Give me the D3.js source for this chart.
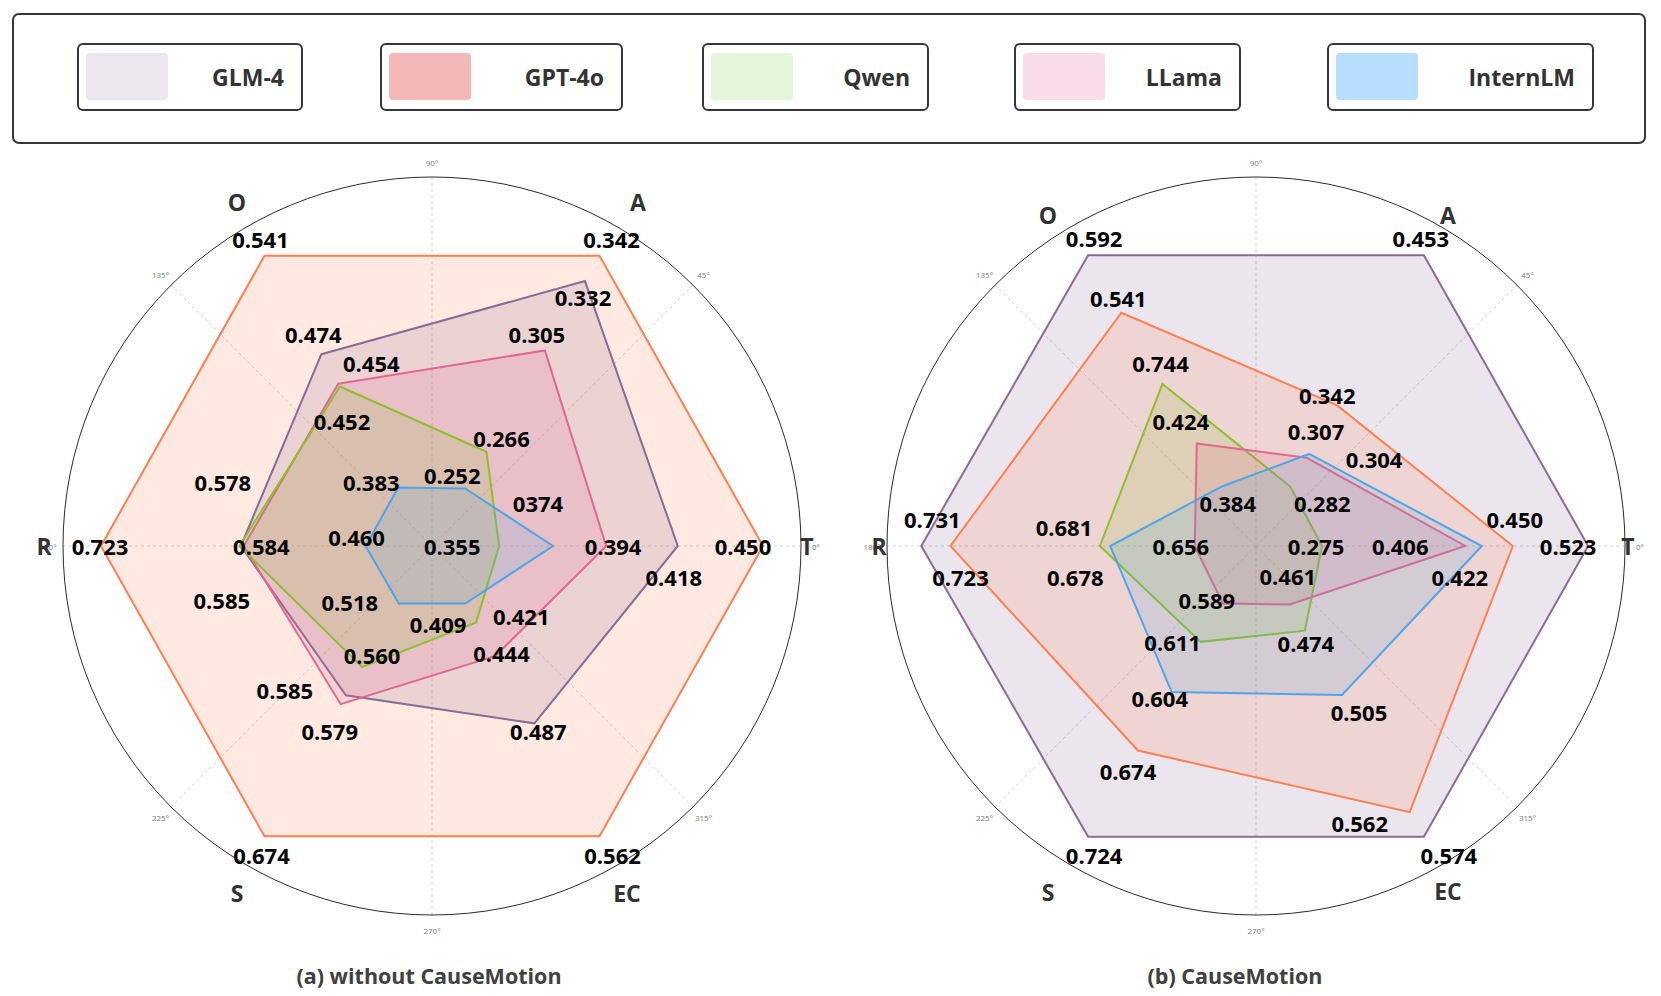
<!DOCTYPE html>
<html>
<head>
<meta charset="utf-8">
<script src="https://cdn.jsdelivr.net/npm/d3@7/dist/d3.min.js"></script>
<style>
  body { margin: 0; background: #fff; }
  svg text { font-family: "Open Sans", "Noto Sans", sans-serif; }
</style>
</head>
<body>
<div class="container"></div>
<script>
const categories = ['O', 'A', 'T', 'EC', 'S', 'R']
const axisAngles = [120, 60, 0, -60, -120, 180]
const gridAngles = [0, 45, 90, 135, 180, 225, 270, 315]
const models = ['GLM-4', 'GPT-4o', 'Qwen', 'LLama', 'InternLM']
const panelTitles = ['(a) without CauseMotion', '(b) CauseMotion']

// plotted radius of each vertex (share of the outer ring)
const leftGPT = [0.908, 0.908, 0.897, 0.908, 0.908, 0.897]
const leftGLM = [0.60, 0.829, 0.666, 0.555, 0.467, 0.518]
const leftLLama = [0.508, 0.612, 0.472, 0.344, 0.495, 0.51]
const leftQwen = [0.499, 0.295, 0.182, 0.239, 0.379, 0.522]
const leftIntern = [0.183, 0.18, 0.328, 0.18, 0.18, 0.18]

const rightGLM = [0.91, 0.91, 0.9, 0.91, 0.91, 0.907]
const rightGPT = [0.73, 0.44, 0.696, 0.833, 0.64, 0.828]
const rightQwen = [0.507, 0.186, 0.179, 0.265, 0.30, 0.423]
const rightLLama = [0.321, 0.276, 0.567, 0.183, 0.18, 0.166]
const rightIntern = [0.186, 0.288, 0.612, 0.466, 0.457, 0.395]

// value annotations printed next to the vertices
const leftGPTText = ['0.541', '0.342', '0.450', '0.562', '0.674', '0.723']
const leftGLMText = ['0.474', '0.332', '0.418', '0.487', '0.585', '0.578']
const leftLLamaText = ['0.454', '0.305', '0.394', '0.444', '0.579', '0.585']
const leftQwenText = ['0.452', '0.266', '0.355', '0.409', '0.560', '0.584']
const leftInternText = ['0.383', '0.252', '0374', '0.421', '0.518', '0.460']

const rightGLMText = ['0.592', '0.453', '0.523', '0.574', '0.724', '0.731']
const rightGPTText = ['0.541', '0.342', '0.450', '0.562', '0.674', '0.723']
const rightQwenText = ['0.744', '0.282', '0.275', '0.474', '0.611', '0.681']
const rightLLamaText = ['0.424', '0.307', '0.406', '0.461', '0.589', '0.656']
const rightInternText = ['0.384', '0.304', '0.422', '0.505', '0.604', '0.678']

// ---- styling / layout ----
const width = 1661
const height = 996
const ringR = 369

const lineColor = {
  'GLM-4': '#8b6b96',
  'GPT-4o': '#ff7f50',
  'Qwen': '#8dbf2e',
  'LLama': '#e3668e',
  'InternLM': '#4da6e8'
}
const swatchColor = {
  'GLM-4': '#ece6ee',
  'GPT-4o': '#f4b8b8',
  'Qwen': '#e4f5dc',
  'LLama': '#f9dbe9',
  'InternLM': '#b8defd'
}

// label nudges (px) from each vertex
const leftNudge = {
  'GPT-4o': [[-4, -17], [12, -17], [-20, 0], [13, 19], [-3, 19], [-1, 0]],
  'GLM-4': [[-8, -20], [-2, 16], [-4, 31], [4, 8], [-61, -5], [-18, -64]],
  'LLama': [[33, -21], [-8, -16], [7, 0], [6, -3], [-11, 27], [-22, 54]],
  'Qwen': [[2, 34], [15, -14], [-47, 0], [-38, 2], [10, -12], [22, 0]],
  'InternLM': [[-27, -6], [-13, -13], [-15, -43], [56, 12], [-49, -2], [-9, -9]]
}
const rightNudge = {
  'GLM-4': [[6, -17], [-3, -17], [-20, 0], [25, 18], [6, 18], [11, -27]],
  'GPT-4o': [[-3, -15], [-10, -10], [2, -27], [-50, 11], [-10, 20], [10, 31]],
  'Qwen': [[-2, -21], [32, 16], [-6, 0], [1, 12], [-28, 0], [-36, -19]],
  'LLama': [[-16, -22], [9, -27], [-65, 0], [-2, -28], [-16, -4], [-14, 0]],
  'InternLM': [[6, 16], [65, 5], [-22, 31], [17, 17], [-12, 6], [-35, 31]]
}

const panels = [
  {
    cx: 432, cy: 546, titleX: 429,
    catPos: [[-195, -344], [206, -344], [375, 0], [195, 347], [-195, 347], [-388, 0]],
    series: [
      { name: 'GPT-4o', r: leftGPT, text: leftGPTText },
      { name: 'GLM-4', r: leftGLM, text: leftGLMText },
      { name: 'LLama', r: leftLLama, text: leftLLamaText },
      { name: 'Qwen', r: leftQwen, text: leftQwenText },
      { name: 'InternLM', r: leftIntern, text: leftInternText }
    ],
    nudge: leftNudge
  },
  {
    cx: 1256, cy: 546, titleX: 1235,
    catPos: [[-208, -331], [192, -331], [372, 0], [192, 345], [-208, 346], [-377, 0]],
    series: [
      { name: 'GLM-4', r: rightGLM, text: rightGLMText },
      { name: 'GPT-4o', r: rightGPT, text: rightGPTText },
      { name: 'Qwen', r: rightQwen, text: rightQwenText },
      { name: 'LLama', r: rightLLama, text: rightLLamaText },
      { name: 'InternLM', r: rightIntern, text: rightInternText }
    ],
    nudge: rightNudge
  }
]

const svg = d3.select('.container')
  .append('svg')
  .attr('width', width)
  .attr('height', height)

const rScale = d3.scaleLinear().domain([0, 1]).range([0, ringR])
const toRad = deg => (90 - deg) * Math.PI / 180   // d3 radial angle: clockwise from 12 o'clock

// ---- legend ----
const legendBoxes = [
  { x: 78, w: 224 }, { x: 381, w: 241 }, { x: 703, w: 225 }, { x: 1015, w: 225 }, { x: 1328, w: 265 }
]

svg.append('rect')
  .attr('x', 13).attr('y', 14)
  .attr('width', 1632).attr('height', 129)
  .attr('rx', 6)
  .attr('fill', 'none')
  .attr('stroke', '#33373b')
  .attr('stroke-width', 2)

const legendItem = svg.selectAll('g.legend-item')
  .data(models)
  .enter()
  .append('g')
  .attr('class', 'legend-item')
  .attr('transform', (d, i) => `translate(${legendBoxes[i].x}, 44)`)

legendItem.append('rect')
  .attr('width', (d, i) => legendBoxes[i].w)
  .attr('height', 66)
  .attr('rx', 5)
  .attr('fill', '#fff')
  .attr('stroke', '#33373b')
  .attr('stroke-width', 2)

legendItem.append('rect')
  .attr('x', 8).attr('y', 9)
  .attr('width', 82).attr('height', 47)
  .attr('rx', 4)
  .attr('fill', d => swatchColor[d])

legendItem.append('text')
  .attr('x', (d, i) => legendBoxes[i].w - 18)
  .attr('y', 33)
  .attr('text-anchor', 'end')
  .attr('dominant-baseline', 'central')
  .attr('font-size', 23)
  .attr('font-weight', 700)
  .attr('fill', '#333')
  .text(d => d)

// ---- radar panels ----
panels.forEach((p, pi) => {
  const g = svg.append('g').attr('transform', `translate(${p.cx}, ${p.cy})`)

  // spokes every 45 degrees
  g.selectAll('line.spoke')
    .data(gridAngles)
    .enter()
    .append('line')
    .attr('class', 'spoke')
    .attr('x1', 0).attr('y1', 0)
    .attr('x2', d => d3.pointRadial(toRad(d), ringR)[0])
    .attr('y2', d => d3.pointRadial(toRad(d), ringR)[1])
    .attr('stroke', '#c8c8c8')
    .attr('stroke-width', 0.8)
    .attr('stroke-dasharray', '3,3')

  g.append('circle')
    .attr('r', ringR)
    .attr('fill', 'none')
    .attr('stroke', '#2b2b2b')
    .attr('stroke-width', 1)

  g.selectAll('text.deg')
    .data(gridAngles)
    .enter()
    .append('text')
    .attr('class', 'deg')
    .attr('x', d => d3.pointRadial(toRad(d), ringR + 15)[0])
    .attr('y', d => d3.pointRadial(toRad(d), ringR + 15)[1])
    .attr('text-anchor', 'middle')
    .attr('dominant-baseline', 'central')
    .attr('font-size', 8)
    .attr('fill', '#777')
    .text(d => d + '°')

  const radarLine = d3.lineRadial()
    .angle((d, i) => toRad(axisAngles[i]))
    .radius(d => rScale(d))
    .curve(d3.curveLinearClosed)

  g.selectAll('path.area')
    .data(p.series)
    .enter()
    .append('path')
    .attr('class', 'area')
    .attr('d', d => radarLine(d.r))
    .attr('fill', d => lineColor[d.name])
    .attr('fill-opacity', 0.17)
    .attr('stroke', d => lineColor[d.name])
    .attr('stroke-width', 2)
    .attr('stroke-linejoin', 'miter')

  // category names
  g.selectAll('text.cat')
    .data(categories)
    .enter()
    .append('text')
    .attr('class', 'cat')
    .attr('x', (d, i) => p.catPos[i][0])
    .attr('y', (d, i) => p.catPos[i][1])
    .attr('text-anchor', 'middle')
    .attr('dominant-baseline', 'central')
    .attr('font-size', 23)
    .attr('font-weight', 700)
    .attr('fill', '#333')
    .text(d => d)

  // value labels
  const labels = []
  p.series.forEach(s => {
    s.r.forEach((v, i) => {
      const pt = d3.pointRadial(toRad(axisAngles[i]), rScale(v))
      const n = p.nudge[s.name][i]
      labels.push({ text: s.text[i], x: pt[0] + n[0], y: pt[1] + n[1] })
    })
  })

  g.selectAll('text.val')
    .data(labels)
    .enter()
    .append('text')
    .attr('class', 'val')
    .attr('x', d => d.x)
    .attr('y', d => d.y)
    .attr('text-anchor', 'middle')
    .attr('dominant-baseline', 'central')
    .attr('font-size', 22)
    .attr('font-weight', 700)
    .attr('fill', '#000')
    .text(d => d.text)

  svg.append('text')
    .attr('x', p.titleX)
    .attr('y', 975)
    .attr('text-anchor', 'middle')
    .attr('dominant-baseline', 'central')
    .attr('font-size', 21.5)
    .attr('font-weight', 700)
    .attr('fill', '#404040')
    .text(panelTitles[pi])
})
</script>
</body>
</html>
